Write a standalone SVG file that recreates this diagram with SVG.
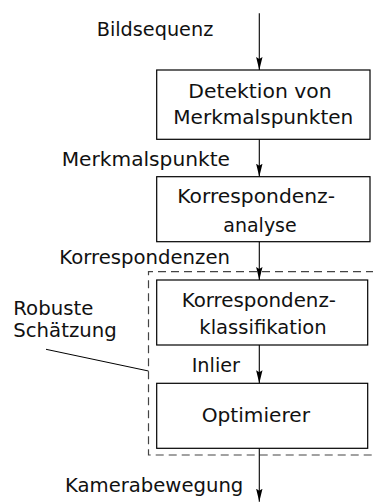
<svg xmlns="http://www.w3.org/2000/svg" width="373" height="502" viewBox="0 0 373 502">
<style>
  .box { fill: #fff; stroke: #000; stroke-width: 1.2; }
  .t { font-family: "DejaVu Sans", "Liberation Sans", sans-serif; font-size: 20px; fill: #111; }
  .edge { stroke: #000; stroke-width: 1.1; fill: none; marker-end: url(#arr); }
  .frame { fill: none; stroke: #444; stroke-width: 1.2; stroke-dasharray: 8 5; }
  .lead { stroke: #000; stroke-width: 1; fill: none; }
</style>
<defs>
  <marker id="arr" markerWidth="14" markerHeight="8" refX="13" refY="3.2" orient="auto" markerUnits="userSpaceOnUse">
    <path d="M0,0 L13,3.2 L0,6.4 L2,3.2 Z" fill="#000"/>
  </marker>
</defs>
<rect width="373" height="502" fill="#fff"/>
<g id="frame">
  <path class="frame" d="M400,271.7 H148.5 V455 H400"/>
  <line class="lead" x1="46" y1="349.3" x2="148.5" y2="371"/>
  <text class="t" x="13.3" y="315" textLength="80" lengthAdjust="spacingAndGlyphs">Robuste</text>
  <text class="t" x="13.3" y="336.7" textLength="103.4" lengthAdjust="spacingAndGlyphs">Schätzung</text>
</g>
<g id="connectors">
  <line class="edge" x1="259.3" y1="13.3" x2="259.3" y2="70"/>
  <line class="edge" x1="259.3" y1="139.3" x2="259.3" y2="176.7"/>
  <line class="edge" x1="259.3" y1="241.7" x2="259.3" y2="280"/>
  <line class="edge" x1="259.3" y1="345" x2="259.3" y2="383.3"/>
  <line class="edge" x1="259.3" y1="448.3" x2="259.3" y2="501.7"/>
  <text class="t" x="96.7" y="36" textLength="116.6" lengthAdjust="spacingAndGlyphs">Bildsequenz</text>
  <text class="t" x="61.7" y="165.7" textLength="168.3" lengthAdjust="spacingAndGlyphs">Merkmalspunkte</text>
  <text class="t" x="59.3" y="264" textLength="170.7" lengthAdjust="spacingAndGlyphs">Korrespondenzen</text>
  <text class="t" x="191.7" y="371.7" textLength="48.3" lengthAdjust="spacingAndGlyphs">Inlier</text>
  <text class="t" x="65" y="491.7" textLength="178.3" lengthAdjust="spacingAndGlyphs">Kamerabewegung</text>
</g>
<g id="detektion">
  <rect class="box" x="156.7" y="70" width="213.3" height="69.3"/>
  <text class="t" x="188.3" y="97.7" textLength="143.4" lengthAdjust="spacingAndGlyphs">Detektion von</text>
  <text class="t" x="173.3" y="124.3" textLength="180" lengthAdjust="spacingAndGlyphs">Merkmalspunkten</text>
</g>
<g id="analyse">
  <rect class="box" x="156.7" y="176.7" width="213.3" height="65"/>
  <text class="t" x="177.3" y="203.3" textLength="157.7" lengthAdjust="spacingAndGlyphs">Korrespondenz-</text>
  <text class="t" x="223.3" y="231.7" textLength="73.4" lengthAdjust="spacingAndGlyphs">analyse</text>
</g>
<g id="klassifikation">
  <rect class="box" x="156.7" y="280" width="211" height="65"/>
  <text class="t" x="181.7" y="307.3" textLength="154.3" lengthAdjust="spacingAndGlyphs">Korrespondenz-</text>
  <text class="t" x="199.3" y="334" textLength="127.4" lengthAdjust="spacingAndGlyphs">klassifikation</text>
</g>
<g id="optimierer">
  <rect class="box" x="156.7" y="383.3" width="211" height="65"/>
  <text class="t" x="201.7" y="421.7" textLength="108.3" lengthAdjust="spacingAndGlyphs">Optimierer</text>
</g>
</svg>
